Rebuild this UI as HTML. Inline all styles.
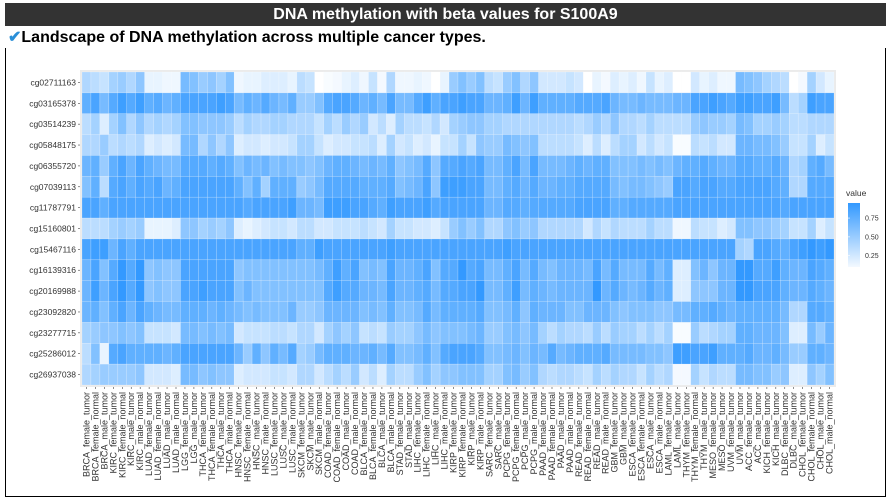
<!DOCTYPE html>
<html><head><meta charset="utf-8">
<style>
body{margin:0;background:#fff;width:894px;height:502px;overflow:hidden;font-family:"Liberation Sans",Arial,sans-serif}
#hdr{position:absolute;left:5px;top:3px;width:881px;height:23px;background:#333;color:#fff;font-weight:bold;font-size:16px;text-align:center;line-height:23px}
#sub{position:absolute;left:8px;top:27px;font-weight:bold;font-size:16px;color:#000}
#sub span{color:#2a8fd8}
#frame{position:absolute;left:5px;top:48px;width:879px;height:448px;border:1px solid #000;border-top:none}
svg{position:absolute;left:0;top:0}
</style></head><body>
<div id="hdr">DNA methylation with beta values for S100A9</div>
<div id="sub"><span>✔</span>Landscape of DNA methylation across multiple cancer types.</div>
<div id="frame"></div>
<svg id="chart" width="894" height="502"></svg>
<script>
const probes=["cg02711163","cg03165378","cg03514239","cg05848175","cg06355720","cg07039113","cg11787791","cg15160801","cg15467116","cg16139316","cg20169988","cg23092820","cg23277715","cg25286012","cg26937038"];
const samples=["BRCA_female_tumor","BRCA_female_normal","BRCA_male_tumor","KIRC_female_tumor","KIRC_female_normal","KIRC_male_tumor","KIRC_male_normal","LUAD_female_tumor","LUAD_female_normal","LUAD_male_tumor","LUAD_male_normal","LGG_female_tumor","LGG_male_tumor","THCA_female_tumor","THCA_female_normal","THCA_male_tumor","THCA_male_normal","HNSC_female_tumor","HNSC_female_normal","HNSC_male_tumor","HNSC_male_normal","LUSC_female_tumor","LUSC_male_tumor","LUSC_male_normal","SKCM_female_tumor","SKCM_male_tumor","SKCM_male_normal","COAD_female_tumor","COAD_female_normal","COAD_male_tumor","COAD_male_normal","BLCA_female_tumor","BLCA_female_normal","BLCA_male_tumor","BLCA_male_normal","STAD_female_tumor","STAD_male_tumor","LIHC_female_tumor","LIHC_female_normal","LIHC_male_tumor","LIHC_male_normal","KIRP_female_tumor","KIRP_female_normal","KIRP_male_tumor","KIRP_male_normal","SARC_female_tumor","SARC_male_tumor","PCPG_female_tumor","PCPG_female_normal","PCPG_male_tumor","PCPG_male_normal","PAAD_female_tumor","PAAD_female_normal","PAAD_male_tumor","PAAD_male_normal","READ_female_tumor","READ_female_normal","READ_male_tumor","READ_male_normal","GBM_female_tumor","GBM_male_tumor","ESCA_female_tumor","ESCA_female_normal","ESCA_male_tumor","ESCA_male_normal","LAML_female_tumor","LAML_male_tumor","THYM_female_tumor","THYM_female_normal","THYM_male_tumor","MESO_female_tumor","MESO_male_tumor","UVM_female_tumor","UVM_male_tumor","ACC_female_tumor","ACC_male_tumor","KICH_female_tumor","KICH_male_tumor","DLBC_female_tumor","DLBC_male_tumor","CHOL_female_tumor","CHOL_female_normal","CHOL_male_tumor","CHOL_male_normal"];
const row0=[0.4,0.35,0.3,0.45,0.5,0.4,0.55,0.15,0.15,0.12,0.12,0.65,0.6,0.5,0.55,0.45,0.6,0.12,0.15,0.15,0.2,0.2,0.2,0.15,0.35,0.3,0.05,0.08,0.1,0.15,0.2,0.12,0.3,0.1,0.4,0.12,0.12,0.15,0.12,0.05,0.15,0.5,0.6,0.5,0.6,0.35,0.3,0.5,0.6,0.4,0.55,0.25,0.25,0.25,0.3,0.25,0.05,0.15,0.1,0.2,0.15,0.2,0.12,0.3,0.15,0.2,0.02,0.02,0.25,0.15,0.2,0.12,0.12,0.65,0.6,0.55,0.45,0.4,0.35,0.05,0.1,0.45,0.25,0.15];
const row1=[0.75,0.85,0.65,0.8,0.9,0.8,0.9,0.75,0.8,0.7,0.75,0.85,0.85,0.85,0.85,0.9,0.85,0.65,0.75,0.7,0.8,0.7,0.65,0.75,0.5,0.5,0.6,0.8,0.85,0.85,0.8,0.7,0.75,0.65,0.85,0.65,0.65,0.8,0.9,0.75,0.85,0.85,0.9,0.85,0.85,0.7,0.7,0.75,0.9,0.7,0.9,0.75,0.75,0.75,0.75,0.8,0.8,0.8,0.85,0.7,0.65,0.65,0.7,0.65,0.65,0.65,0.7,0.7,0.85,0.85,0.9,0.85,0.8,0.9,0.9,0.85,0.85,0.9,0.65,0.35,0.45,0.9,0.85,0.85];
const row2=[0.35,0.45,0.2,0.45,0.6,0.4,0.55,0.4,0.45,0.4,0.45,0.6,0.6,0.55,0.55,0.55,0.5,0.35,0.45,0.4,0.4,0.45,0.45,0.4,0.4,0.4,0.3,0.45,0.35,0.5,0.4,0.5,0.25,0.35,0.2,0.45,0.35,0.35,0.3,0.4,0.25,0.45,0.5,0.55,0.55,0.45,0.45,0.4,0.4,0.4,0.4,0.4,0.4,0.4,0.4,0.35,0.4,0.5,0.4,0.55,0.4,0.4,0.35,0.45,0.35,0.35,0.35,0.35,0.5,0.55,0.5,0.5,0.45,0.65,0.6,0.45,0.45,0.5,0.45,0.35,0.35,0.4,0.4,0.4];
const row3=[0.4,0.4,0.5,0.35,0.4,0.35,0.4,0.2,0.25,0.2,0.25,0.65,0.65,0.4,0.55,0.4,0.55,0.2,0.25,0.25,0.2,0.25,0.25,0.3,0.45,0.45,0.3,0.2,0.25,0.25,0.3,0.3,0.35,0.2,0.45,0.25,0.3,0.2,0.25,0.15,0.3,0.3,0.45,0.3,0.55,0.5,0.5,0.65,0.6,0.55,0.6,0.35,0.35,0.35,0.35,0.3,0.2,0.35,0.2,0.35,0.45,0.45,0.25,0.35,0.25,0.3,0.08,0.08,0.35,0.3,0.35,0.25,0.25,0.7,0.7,0.65,0.65,0.6,0.5,0.3,0.3,0.45,0.2,0.3];
const row4=[0.7,0.75,0.5,0.75,0.85,0.7,0.85,0.75,0.7,0.65,0.65,0.8,0.8,0.8,0.75,0.8,0.75,0.6,0.7,0.65,0.7,0.6,0.65,0.6,0.6,0.55,0.6,0.7,0.75,0.75,0.7,0.65,0.7,0.65,0.75,0.55,0.6,0.65,0.8,0.55,0.8,0.8,0.85,0.8,0.85,0.65,0.65,0.75,0.85,0.65,0.85,0.65,0.65,0.65,0.7,0.75,0.7,0.75,0.75,0.6,0.6,0.6,0.65,0.6,0.65,0.6,0.7,0.75,0.75,0.8,0.75,0.7,0.7,0.8,0.8,0.75,0.75,0.8,0.7,0.4,0.45,0.75,0.8,0.65];
const row5=[0.6,0.75,0.35,0.8,0.85,0.75,0.85,0.8,0.85,0.7,0.75,0.85,0.85,0.85,0.85,0.85,0.85,0.75,0.6,0.75,0.45,0.75,0.75,0.75,0.5,0.55,0.65,0.8,0.8,0.8,0.8,0.75,0.75,0.75,0.8,0.6,0.65,0.7,0.85,0.55,0.9,0.9,0.9,0.85,0.85,0.65,0.65,0.75,0.8,0.7,0.8,0.7,0.7,0.75,0.75,0.8,0.8,0.8,0.8,0.65,0.6,0.65,0.65,0.6,0.55,0.5,0.85,0.85,0.8,0.85,0.85,0.8,0.8,0.85,0.85,0.85,0.85,0.8,0.75,0.4,0.4,0.8,0.8,0.8];
const row6=[0.85,0.85,0.75,0.85,0.85,0.85,0.85,0.85,0.85,0.85,0.85,0.85,0.85,0.85,0.85,0.85,0.85,0.85,0.8,0.85,0.85,0.85,0.85,0.9,0.7,0.7,0.65,0.9,0.9,0.9,0.85,0.85,0.8,0.75,0.9,0.85,0.85,0.85,0.9,0.8,0.85,0.85,0.85,0.85,0.85,0.7,0.7,0.8,0.8,0.75,0.8,0.8,0.8,0.8,0.8,0.85,0.85,0.85,0.85,0.75,0.75,0.8,0.8,0.8,0.8,0.8,0.85,0.85,0.85,0.85,0.85,0.85,0.85,0.85,0.85,0.85,0.85,0.85,0.8,0.85,0.85,0.85,0.85,0.85];
const row7=[0.35,0.35,0.35,0.45,0.5,0.45,0.5,0.15,0.15,0.15,0.2,0.55,0.55,0.45,0.5,0.45,0.55,0.2,0.15,0.2,0.25,0.3,0.3,0.25,0.35,0.35,0.25,0.25,0.3,0.3,0.3,0.35,0.3,0.25,0.45,0.3,0.3,0.25,0.25,0.2,0.3,0.5,0.6,0.5,0.6,0.4,0.4,0.55,0.6,0.5,0.55,0.4,0.4,0.4,0.4,0.4,0.25,0.4,0.3,0.4,0.35,0.35,0.35,0.45,0.35,0.35,0.12,0.12,0.35,0.3,0.3,0.2,0.25,0.6,0.6,0.55,0.55,0.5,0.45,0.3,0.3,0.45,0.2,0.3];
const row8=[0.85,0.9,0.9,0.7,0.85,0.75,0.85,0.85,0.85,0.85,0.85,0.85,0.85,0.85,0.85,0.85,0.85,0.85,0.85,0.85,0.85,0.85,0.85,0.85,0.75,0.75,0.9,0.85,0.85,0.85,0.85,0.85,0.85,0.85,0.9,0.85,0.85,0.85,0.85,0.85,0.85,0.85,0.85,0.85,0.85,0.85,0.85,0.9,0.85,0.85,0.85,0.85,0.85,0.85,0.85,0.85,0.85,0.85,0.85,0.85,0.85,0.85,0.85,0.85,0.85,0.85,0.85,0.85,0.85,0.85,0.85,0.85,0.85,0.45,0.4,0.85,0.85,0.8,0.75,0.85,0.9,0.95,0.9,0.95];
const row9=[0.7,0.85,0.6,0.8,0.95,0.8,0.95,0.55,0.6,0.55,0.55,0.85,0.85,0.85,0.85,0.85,0.85,0.55,0.6,0.6,0.6,0.6,0.6,0.6,0.6,0.6,0.65,0.75,0.9,0.75,0.85,0.6,0.65,0.6,0.85,0.7,0.7,0.75,0.85,0.6,0.8,0.8,0.95,0.8,0.85,0.65,0.65,0.75,0.85,0.65,0.8,0.65,0.6,0.7,0.7,0.7,0.65,0.85,0.65,0.8,0.65,0.65,0.65,0.8,0.65,0.75,0.2,0.2,0.6,0.7,0.55,0.7,0.7,0.95,0.95,0.8,0.8,0.9,0.75,0.7,0.7,0.85,0.8,0.75];
const row10=[0.7,0.9,0.7,0.85,0.95,0.8,0.95,0.55,0.6,0.55,0.55,0.85,0.85,0.9,0.85,0.85,0.85,0.6,0.7,0.6,0.6,0.6,0.6,0.6,0.6,0.6,0.6,0.8,0.9,0.8,0.8,0.7,0.7,0.65,0.85,0.7,0.7,0.75,0.8,0.65,0.8,0.8,0.85,0.85,0.95,0.65,0.65,0.75,0.9,0.65,0.75,0.7,0.65,0.7,0.7,0.7,0.7,0.95,0.7,0.8,0.7,0.65,0.7,0.8,0.7,0.75,0.2,0.2,0.55,0.55,0.55,0.7,0.7,0.95,0.95,0.85,0.85,0.85,0.75,0.7,0.7,0.8,0.75,0.7];
const row11=[0.7,0.75,0.6,0.75,0.85,0.7,0.85,0.75,0.7,0.65,0.65,0.75,0.75,0.75,0.7,0.75,0.7,0.65,0.6,0.65,0.6,0.6,0.6,0.7,0.5,0.5,0.55,0.7,0.7,0.7,0.7,0.6,0.65,0.6,0.75,0.6,0.6,0.65,0.8,0.65,0.75,0.75,0.75,0.75,0.8,0.6,0.6,0.65,0.75,0.55,0.75,0.7,0.7,0.7,0.6,0.6,0.7,0.7,0.7,0.6,0.55,0.6,0.6,0.6,0.55,0.55,0.65,0.65,0.75,0.75,0.8,0.75,0.7,0.75,0.75,0.75,0.75,0.75,0.65,0.4,0.4,0.8,0.8,0.75];
const row12=[0.45,0.5,0.55,0.55,0.6,0.55,0.6,0.3,0.3,0.3,0.25,0.65,0.65,0.6,0.65,0.6,0.65,0.25,0.3,0.3,0.3,0.35,0.35,0.3,0.4,0.4,0.25,0.45,0.55,0.45,0.55,0.3,0.35,0.3,0.5,0.45,0.45,0.55,0.65,0.55,0.6,0.6,0.6,0.65,0.7,0.5,0.5,0.6,0.65,0.55,0.65,0.45,0.35,0.45,0.4,0.4,0.35,0.5,0.35,0.5,0.45,0.45,0.35,0.45,0.35,0.45,0.08,0.08,0.5,0.35,0.4,0.45,0.45,0.75,0.75,0.7,0.7,0.7,0.6,0.2,0.2,0.65,0.5,0.7];
const row13=[0.35,0.6,0.15,0.8,0.85,0.75,0.75,0.75,0.75,0.7,0.75,0.85,0.85,0.85,0.85,0.85,0.85,0.7,0.5,0.75,0.55,0.75,0.65,0.8,0.45,0.5,0.65,0.75,0.75,0.75,0.7,0.7,0.75,0.65,0.8,0.6,0.6,0.65,0.75,0.6,0.8,0.85,0.85,0.85,0.8,0.6,0.6,0.65,0.7,0.6,0.7,0.65,0.8,0.65,0.7,0.75,0.75,0.75,0.8,0.65,0.65,0.65,0.65,0.6,0.6,0.55,0.9,0.9,0.85,0.85,0.9,0.75,0.75,0.75,0.8,0.7,0.7,0.75,0.65,0.5,0.5,0.75,0.75,0.7];
const row14=[0.4,0.45,0.5,0.5,0.5,0.5,0.55,0.25,0.25,0.25,0.2,0.65,0.65,0.55,0.6,0.55,0.55,0.2,0.25,0.25,0.25,0.3,0.3,0.25,0.4,0.4,0.25,0.35,0.45,0.35,0.5,0.25,0.35,0.2,0.45,0.35,0.35,0.5,0.6,0.45,0.55,0.55,0.6,0.6,0.6,0.45,0.45,0.6,0.65,0.5,0.6,0.4,0.35,0.4,0.4,0.35,0.3,0.45,0.35,0.45,0.4,0.4,0.3,0.45,0.35,0.4,0.1,0.1,0.45,0.3,0.4,0.35,0.35,0.65,0.65,0.6,0.6,0.5,0.55,0.2,0.2,0.55,0.45,0.6];
const values=[row0,row1,row2,row3,row4,row5,row6,row7,row8,row9,row10,row11,row12,row13,row14];
const legendTicks=[0.25,0.5,0.75];
const legendTickLabels=["0.25","0.50","0.75"];

const NS="http://www.w3.org/2000/svg";
const svg=document.getElementById('chart');
const PL=82,PR=834,PT=72,PB=385;
const cw=(PR-PL)/samples.length, rh=(PB-PT)/probes.length;
const xPos=i=>PL+i*cw, yPos=j=>PT+j*rh;
function col(v){let t=(v-0.05)/0.9;t=Math.max(0,Math.min(1,t));
 const r=Math.round(255+(51-255)*t),g=Math.round(255+(153-255)*t);return `rgb(${r},${g},255)`;}
function mk(tag,attrs){const e=document.createElementNS(NS,tag);for(const k in attrs)e.setAttribute(k,attrs[k]);svg.appendChild(e);return e;}
const bg=mk('rect',{x:PL-2,y:PT-2,width:PR-PL+4,height:PB-PT+4,fill:'#ebebeb'});


values.forEach((row,j)=>row.forEach((v,i)=>{
 const r=mk('rect',{x:xPos(i),y:yPos(j),width:cw,height:rh,fill:col(v),stroke:'rgba(255,255,255,0.35)','stroke-width':0.5});
 
 
}));
probes.forEach((p,j)=>{
 const t=mk('text',{x:PL-6,y:yPos(j)+rh/2+3,'text-anchor':'end','font-size':'8.5',fill:'#333'});
 t.textContent=p;
 
 
 const tk=mk('line',{x1:PL-4,x2:PL-2,y1:yPos(j)+rh/2,y2:yPos(j)+rh/2,stroke:'#444','stroke-width':0.6});
 
 
});
samples.forEach((s,i)=>{
 const cx=xPos(i)+cw/2;
 const tk=mk('line',{x1:cx,x2:cx,y1:PB+2,y2:PB+4,stroke:'#444','stroke-width':0.6});
 
 
 const t=mk('text',{x:0,y:0,'text-anchor':'end','font-size':'9',fill:'#333',transform:`translate(${cx+3},${PB+7}) rotate(-90)`});
 t.textContent=s;
 
 
});
// legend
const LX=848,LT=203,LB=267,vTop=0.95,vBot=0.1;
const lt=mk('text',{x:846,y:196,'font-size':'8.5',fill:'#333'});lt.textContent='value';


const defs=mk('defs',{});
const grad=document.createElementNS(NS,'linearGradient');grad.setAttribute('id','lg');grad.setAttribute('x1','0');grad.setAttribute('y1','1');grad.setAttribute('x2','0');grad.setAttribute('y2','0');
[[0,vBot],[1,vTop]].forEach(([o,v])=>{const s=document.createElementNS(NS,'stop');s.setAttribute('offset',o);s.setAttribute('stop-color',col(v));grad.appendChild(s);});
defs.appendChild(grad);
const lb=mk('rect',{x:LX,y:LT,width:12,height:LB-LT,fill:'url(#lg)'});


const ly=v=>LB-(v-vBot)/(vTop-vBot)*(LB-LT);
legendTicks.forEach((v,k)=>{
 const t=mk('text',{x:865,y:ly(v)+2.5,'font-size':'7',fill:'#333'});t.textContent=legendTickLabels[k];
 
 
 const l=mk('line',{x1:LX,x2:LX+2,y1:ly(v),y2:ly(v),stroke:'#fff','stroke-width':0.6});
 
 
});
</script>
</body></html>
